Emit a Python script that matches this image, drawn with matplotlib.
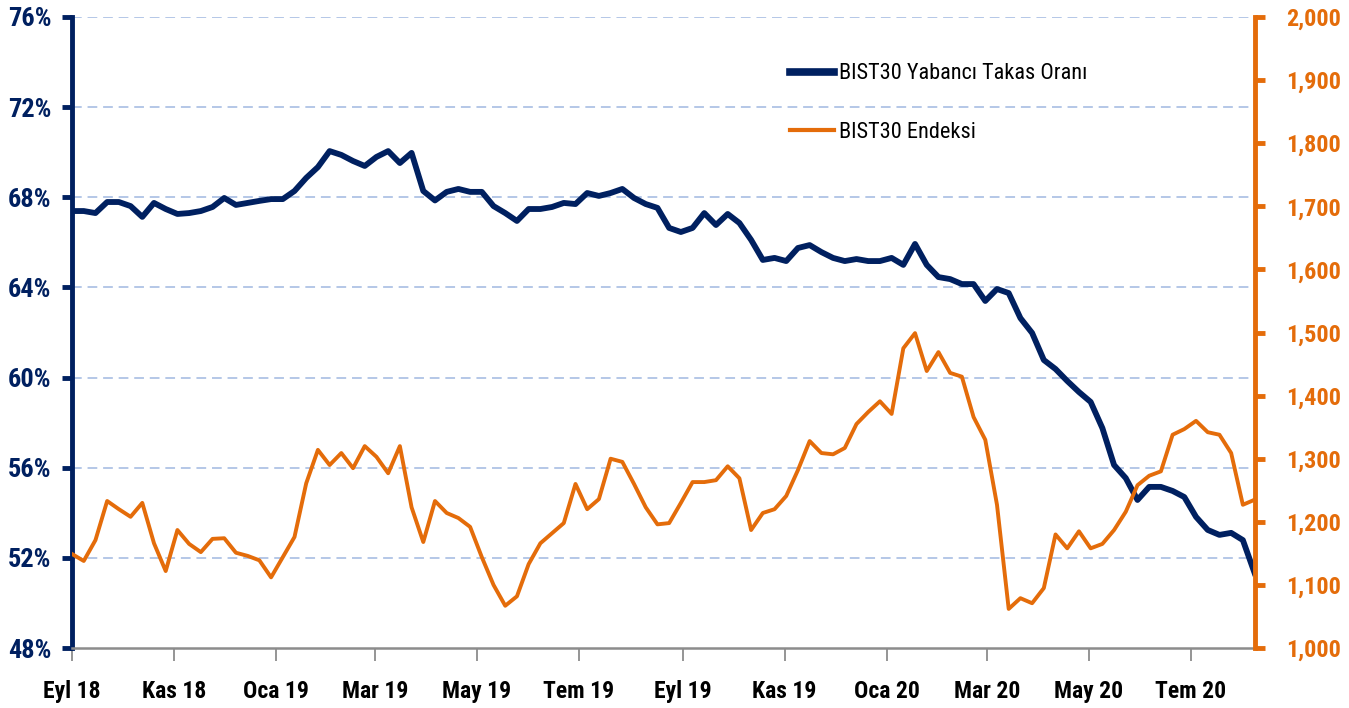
import pandas as pd
import matplotlib
matplotlib.use('Agg')
import matplotlib.pyplot as plt

# Weekly observations, Sep 2018 - Aug 2020
dates = pd.date_range('2018-09-01', periods=102, freq='7D')

# BIST30 foreign ownership ratio (%)
takas = [67.39, 67.39, 67.30, 67.79, 67.79, 67.61, 67.13, 67.75, 67.48, 67.26,
         67.30, 67.39, 67.57, 67.97, 67.66, 67.75, 67.84, 67.92, 67.92, 68.28,
         68.86, 69.34, 70.05, 69.88, 69.61, 69.39, 69.79, 70.05, 69.52, 69.97,
         68.28, 67.86, 68.24, 68.37, 68.24, 68.24, 67.61, 67.30, 66.95, 67.48,
         67.48, 67.57, 67.75, 67.70, 68.19, 68.06, 68.19, 68.37, 67.97, 67.70,
         67.53, 66.64, 66.46, 66.64, 67.30, 66.77, 67.26, 66.86, 66.11, 65.22,
         65.31, 65.17, 65.75, 65.88, 65.57, 65.31, 65.17, 65.26, 65.17, 65.17,
         65.31, 65.00, 65.93, 65.00, 64.46, 64.37, 64.15, 64.15, 63.40, 63.93,
         63.75, 62.64, 61.98, 60.78, 60.38, 59.85, 59.36, 58.92, 57.76, 56.12,
         55.54, 54.57, 55.15, 55.15, 54.97, 54.70, 53.82, 53.24, 53.02, 53.11,
         52.79, 51.33]

# BIST30 index level
endeks = [1149, 1138, 1171, 1233, 1220, 1208, 1230, 1166, 1122, 1187,
          1165, 1152, 1173, 1174, 1151, 1146, 1139, 1112, 1144, 1176,
          1261, 1314, 1290, 1309, 1285, 1320, 1303, 1277, 1320, 1223,
          1168, 1233, 1214, 1206, 1192, 1144, 1100, 1067, 1082, 1133,
          1166, 1182, 1198, 1260, 1220, 1236, 1300, 1295, 1260, 1223,
          1196, 1198, 1230, 1263, 1263, 1266, 1288, 1269, 1187, 1214,
          1220, 1241, 1282, 1328, 1309, 1307, 1317, 1355, 1374, 1391,
          1371, 1475, 1499, 1439, 1469, 1436, 1430, 1366, 1330, 1227,
          1062, 1079, 1071, 1095, 1180, 1158, 1185, 1158, 1165, 1187,
          1216, 1258, 1273, 1280, 1338, 1347, 1360, 1342, 1338, 1309,
          1227, 1235]

tick_dates = pd.date_range('2018-09-01', '2020-07-01', freq='2MS')
tick_labels = ['Eyl 18', 'Kas 18', 'Oca 19', 'Mar 19', 'May 19', 'Tem 19',
               'Eyl 19', 'Kas 19', 'Oca 20', 'Mar 20', 'May 20', 'Tem 20']
left_ticks = [48, 52, 56, 60, 64, 68, 72, 76]
right_ticks = list(range(1000, 2001, 100))

navy = '#002060'
orange = '#E46C0A'
grid_col = '#B4C7E7'

plt.rcParams['font.family'] = ['Roboto Condensed', 'Open Sans', 'DejaVu Sans']

fig = plt.figure(figsize=(13.49, 7.08), dpi=100)
ax = fig.add_axes([0.0534, 0.0847, 0.8766, 0.8913])
ax2 = ax.twinx()

ax.plot(dates, takas, color=navy, linewidth=4.2,
        label='BIST30 Yabancı Takas Oranı', zorder=3)
ax2.plot(dates, endeks, color=orange, linewidth=2.8,
         label='BIST30 Endeksi', zorder=2)

ax.set_xlim(dates[0], dates[-1])
ax.set_ylim(48, 76)
ax2.set_ylim(1000, 2000)

ax.set_yticks(left_ticks)
ax.set_yticklabels([f'{t}%' for t in left_ticks])
ax2.set_yticks(right_ticks)
ax2.set_yticklabels([f'{t:,}' for t in right_ticks])

ax.set_xticks(tick_dates)
ax.set_xticklabels(tick_labels)

# dashed horizontal grid at the left-axis ticks
for t in left_ticks[1:]:
    ax.axhline(t, color=grid_col, linestyle=(0, (5, 3)), linewidth=1.4, zorder=1)

ax.spines['top'].set_visible(False)
ax2.spines['top'].set_visible(False)
ax2.spines['left'].set_visible(False)
ax2.spines['bottom'].set_visible(False)
ax.spines['right'].set_visible(False)

ax.spines['left'].set_color(navy)
ax.spines['left'].set_linewidth(3.5)
ax.spines['bottom'].set_color('#8C8C8C')
ax.spines['bottom'].set_linewidth(1.8)
ax2.spines['right'].set_color(orange)
ax2.spines['right'].set_linewidth(3.5)

ax.tick_params(axis='y', colors=navy, length=7, width=3.5, pad=8, labelsize=19)
ax2.tick_params(axis='y', colors=orange, length=7, width=3.5, pad=16, labelsize=17.5)
ax.tick_params(axis='x', colors='#8C8C8C', length=9, width=1.3, pad=14,
               labelcolor='black', labelsize=17)

for lab in ax.get_yticklabels() + ax2.get_yticklabels() + ax.get_xticklabels():
    lab.set_fontweight('bold')

h1, l1 = ax.get_legend_handles_labels()
h2, l2 = ax2.get_legend_handles_labels()
leg = ax2.legend(h1 + h2, l1 + l2, loc='upper left',
                 bbox_to_anchor=(0.59, 0.958), frameon=False, fontsize=16,
                 handlelength=2.0, handletextpad=0.2, labelspacing=1.7)
leg.get_lines()[0].set_linewidth(5.5)
leg.get_lines()[1].set_linewidth(3)

fig.savefig('out.png', dpi=100)
